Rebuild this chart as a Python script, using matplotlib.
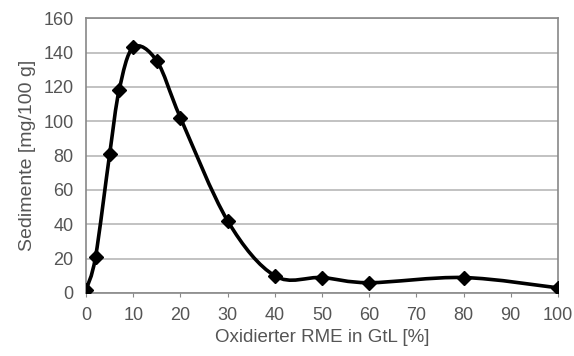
import numpy as np
import matplotlib.pyplot as plt
from matplotlib.path import Path
from matplotlib.patches import PathPatch

plt.rcParams['font.family'] = ['Liberation Sans', 'DejaVu Sans']

# Data
rme_percent = [0, 2, 5, 7, 10, 15, 20, 30, 40, 50, 60, 80, 100]
sediment = [2, 21, 81, 118, 143, 135, 102, 42, 10, 9, 6, 9, 3]
x_ticks = list(range(0, 101, 10))
y_ticks = list(range(0, 161, 20))

text_col = '#555555'
grid_col = '#b8b8b8'


def smooth_path(xs, ys, t=1/6):
    # Excel-style smoothed line as cubic Bezier segments
    p = np.column_stack([xs, ys]).astype(float)
    n = len(p)
    verts = [p[0]]
    codes = [Path.MOVETO]
    for i in range(n - 1):
        p0 = p[i - 1] if i > 0 else p[i]
        p3 = p[i + 2] if i + 2 < n else p[i + 1]
        c1 = p[i] + (p[i + 1] - p0) * t
        c2 = p[i + 1] - (p3 - p[i]) * t
        verts += [c1, c2, p[i + 1]]
        codes += [Path.CURVE4] * 3
    return Path(verts, codes)


fig = plt.figure(figsize=(5.74, 3.56), dpi=100)
ax = fig.add_axes([0.150, 0.177, 0.822, 0.772])

ax.add_patch(PathPatch(smooth_path(rme_percent, sediment), fill=False,
                       edgecolor='black', linewidth=2.6, zorder=3))
ax.plot(rme_percent, sediment, linestyle='none', marker='D', markersize=7,
        color='black', zorder=4)

ax.set_xlim(0, 100)
ax.set_ylim(0, 160)
ax.set_xticks(x_ticks)
ax.set_yticks(y_ticks)
ax.yaxis.grid(True, color=grid_col, linewidth=1.2)
ax.set_axisbelow(True)
for s in ax.spines.values():
    s.set_color('#888888')
    s.set_linewidth(1.2)
ax.tick_params(axis='both', colors=text_col, labelsize=13, length=0, pad=9)
ax.tick_params(axis='x', length=3, color='#888888', direction='out', pad=7)

ax.set_xlabel('Oxidierter RME in GtL [%]', color=text_col, fontsize=13.5, labelpad=4)
ax.set_ylabel('Sedimente [mg/100 g]', color=text_col, fontsize=14, labelpad=5)

fig.savefig('out.png', dpi=100)
